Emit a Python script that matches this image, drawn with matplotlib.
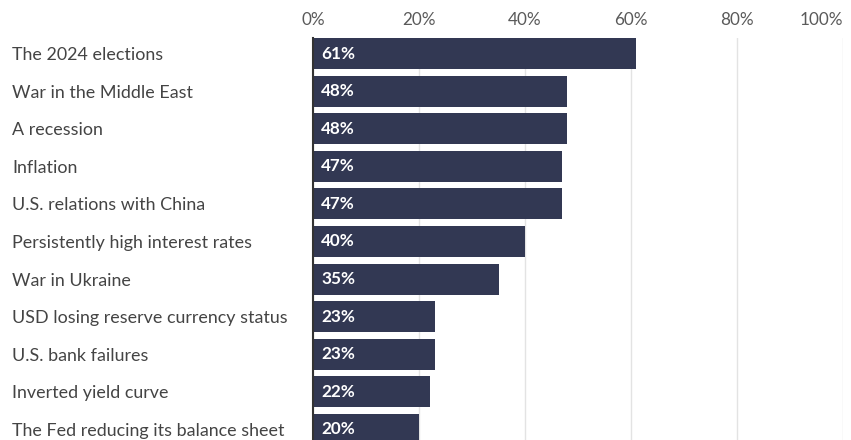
import matplotlib
matplotlib.use("Agg")
import matplotlib.pyplot as plt
from matplotlib.ticker import FixedLocator

categories = [
    "The 2024 elections",
    "War in the Middle East",
    "A recession",
    "Inflation",
    "U.S. relations with China",
    "Persistently high interest rates",
    "War in Ukraine",
    "USD losing reserve currency status",
    "U.S. bank failures",
    "Inverted yield curve",
    "The Fed reducing its balance sheet",
]
values = [61, 48, 48, 47, 47, 40, 35, 23, 23, 22, 20]
xticks = [0, 20, 40, 60, 80, 100]
xtick_labels = ["0%", "20%", "40%", "60%", "80%", "100%"]

BAR = "#323853"
FONT = "Lato"

fig = plt.figure(figsize=(8.51, 4.40), dpi=100)
ax = fig.add_axes([313 / 851, 0, 530 / 851, 402 / 440])

ypos = list(range(len(categories)))
ax.barh(ypos, values, height=0.825, color=BAR, zorder=3)

ax.set_xlim(0, 100)
ax.set_ylim(10.28, -0.4125)

ax.xaxis.set_major_locator(FixedLocator(xticks))
ax.set_xticklabels(xtick_labels, fontsize=12.3, color="#5a5a5a", family=FONT)
ax.xaxis.tick_top()
ax.tick_params(axis="x", length=0, pad=7)
labs = ax.get_xticklabels()
labs[-1].set_ha("right")

ax.set_yticks(ypos)
ax.set_yticklabels(categories, fontsize=12.85, color="#444444", family=FONT)
ax.tick_params(axis="y", length=0, pad=216.7)
for t in ax.get_yticklabels():
    t.set_ha("left")

ax.grid(axis="x", color="#e3e3e3", linewidth=1, zorder=0)
ax.grid(axis="y", visible=False)
for s in ["top", "right", "bottom"]:
    ax.spines[s].set_visible(False)
ax.spines["left"].set_color("#333333")
ax.spines["left"].set_linewidth(1.5)
ax.spines["left"].set_zorder(4)

for y, v in zip(ypos, values):
    ax.annotate(f"{v}%", xy=(0, y), xytext=(6, 0), textcoords="offset points",
                va="center", ha="left", color="white", fontsize=12.3,
                fontweight="bold", family=FONT, zorder=5)

fig.savefig("out.png", dpi=100)
